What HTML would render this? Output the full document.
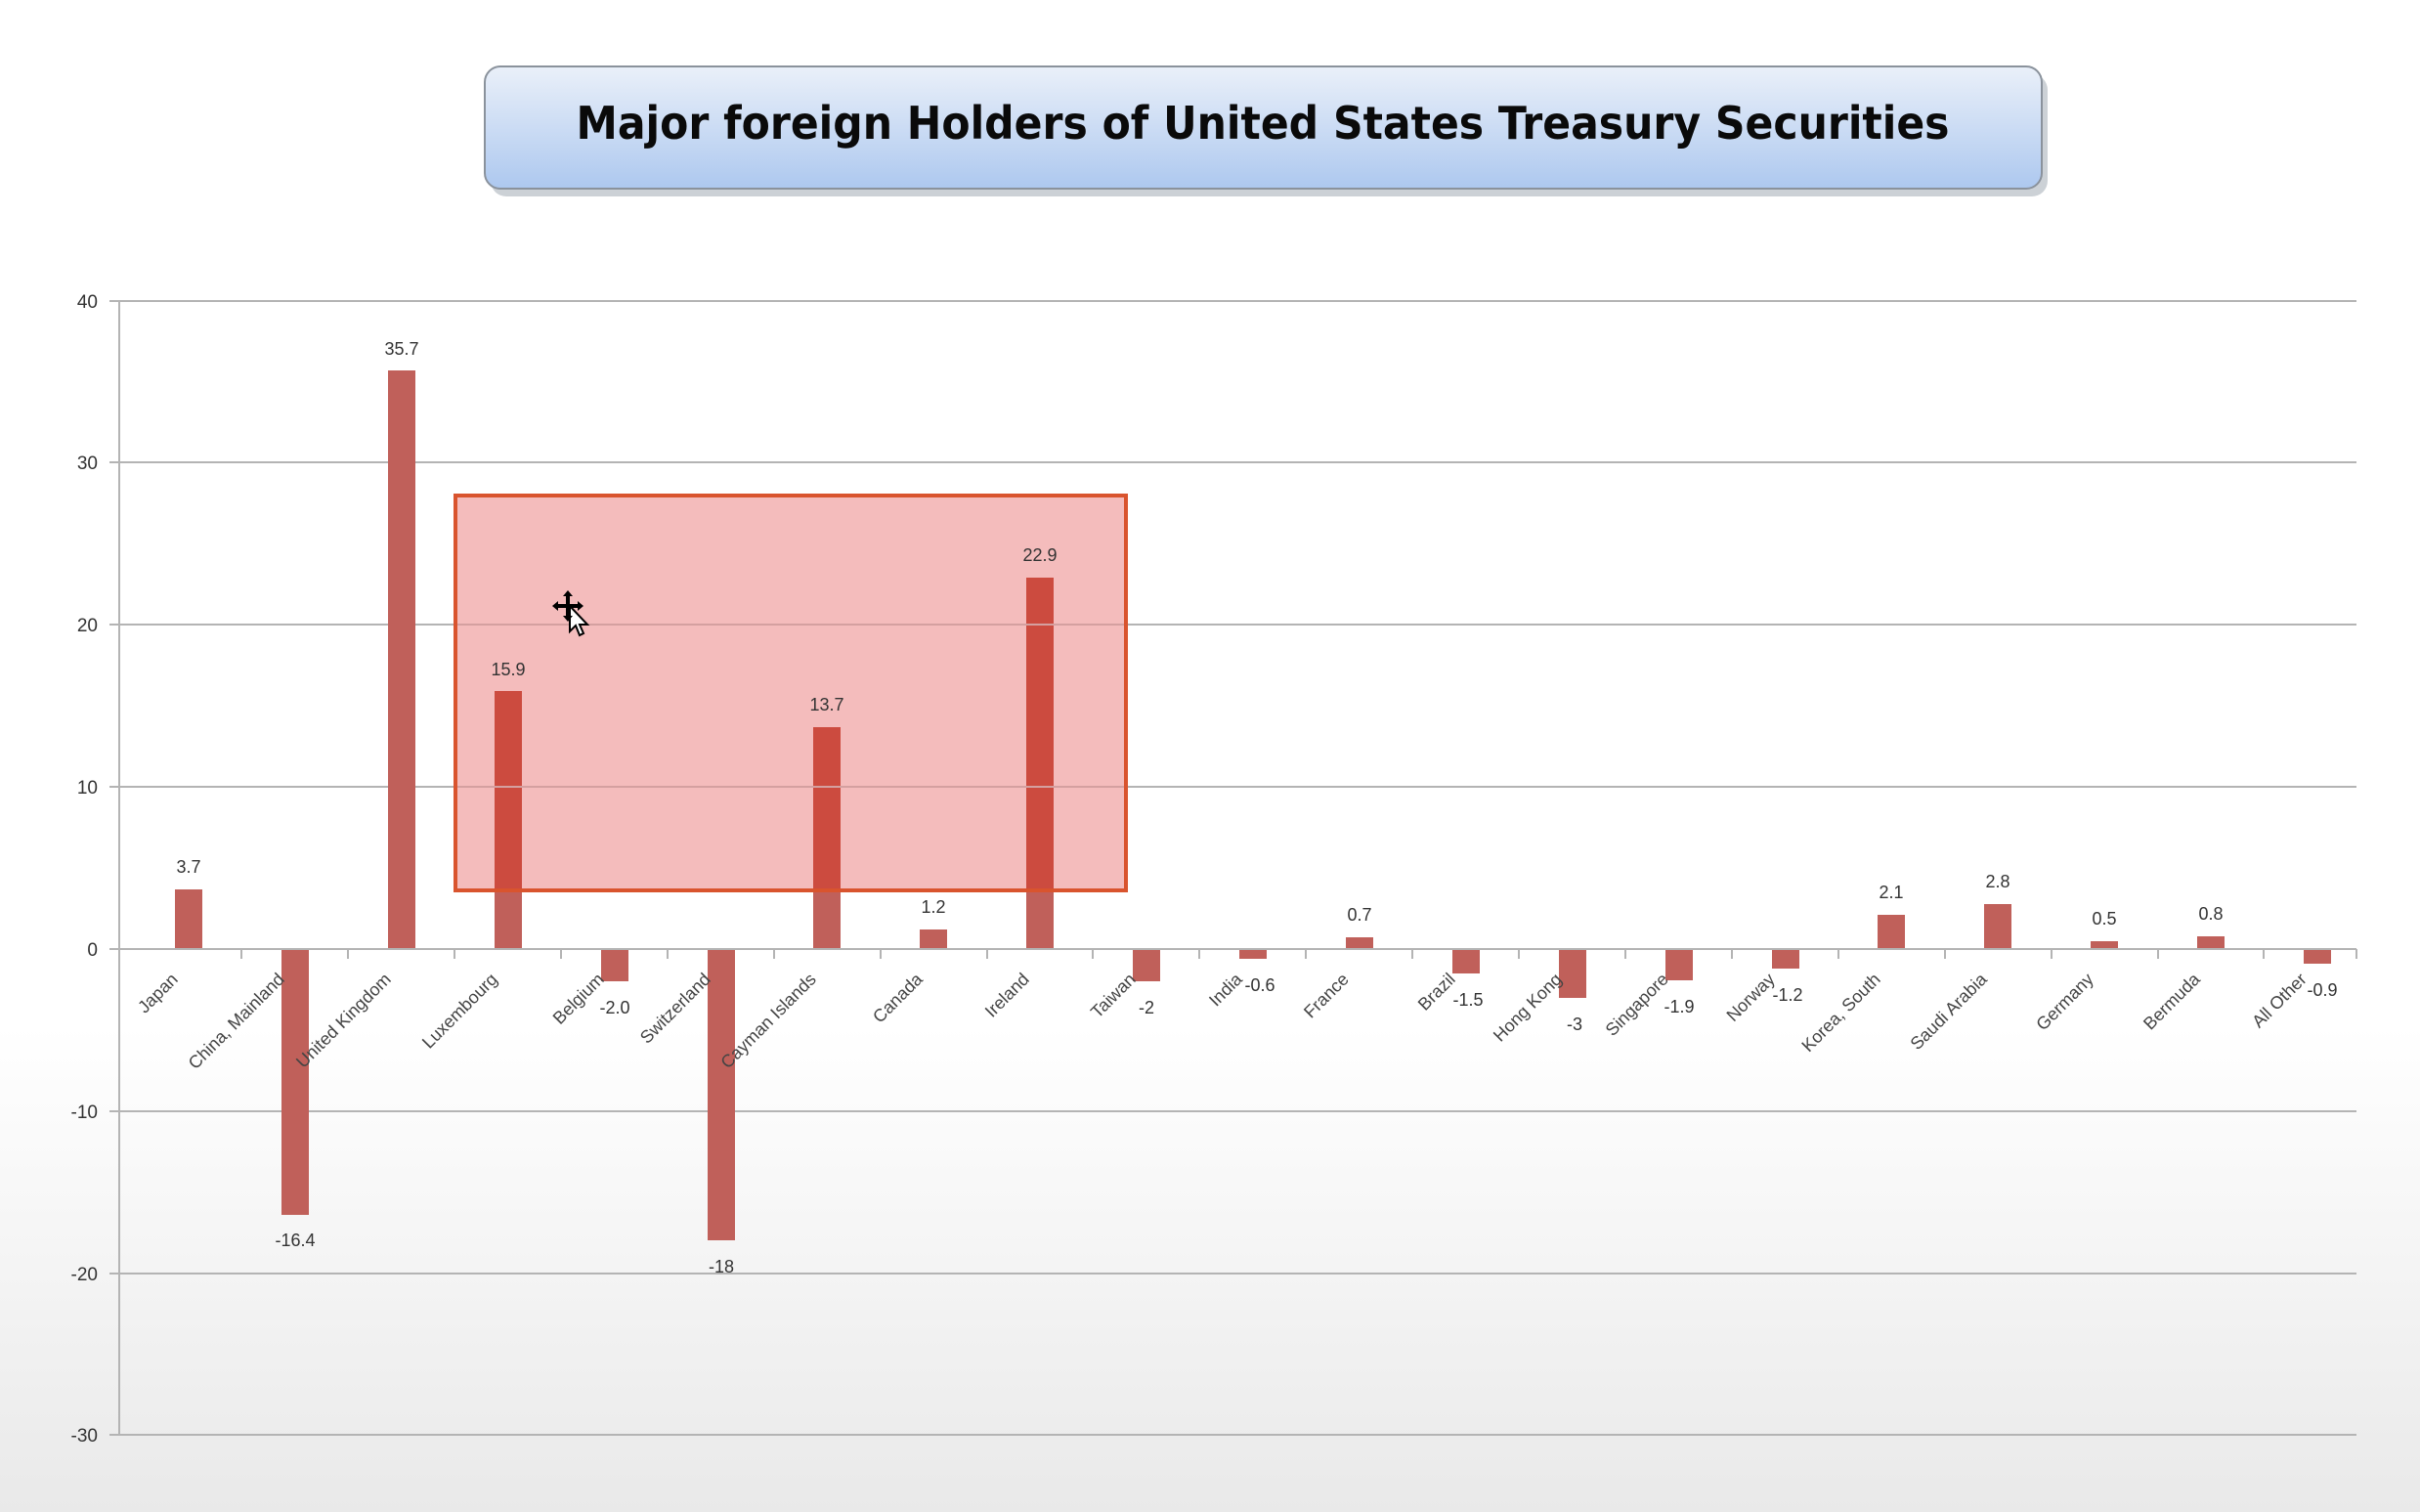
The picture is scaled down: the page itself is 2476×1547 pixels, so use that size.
<!DOCTYPE html>
<html><head><meta charset="utf-8"><style>
html,body{margin:0;padding:0;}
body{width:2476px;height:1547px;overflow:hidden;background:linear-gradient(to bottom,#ffffff 0px,#ffffff 1050px,#e9e9e9 1547px);}
svg{display:block;}
</style></head><body>
<svg width="2476" height="1547" viewBox="0 0 2476 1547" xmlns="http://www.w3.org/2000/svg" font-family="Liberation Sans, sans-serif">
<defs>
<linearGradient id="tg" x1="0" y1="0" x2="0" y2="1">
<stop offset="0" stop-color="#eaf0f9"/><stop offset="1" stop-color="#adc8ef"/>
</linearGradient>
<clipPath id="bx"><rect x="466" y="507" width="686" height="404"/></clipPath>
</defs>
<!-- title -->
<rect x="502" y="76" width="1593" height="125" rx="16" fill="#9aa3ad" opacity="0.5"/>
<rect x="496" y="68" width="1593" height="125" rx="16" fill="url(#tg)" stroke="#8a929c" stroke-width="2"/>
<text x="1292" y="142" text-anchor="middle" font-size="46" font-weight="bold" fill="#0a0a0a" textLength="1405" lengthAdjust="spacingAndGlyphs" font-family="DejaVu Sans, Liberation Sans, sans-serif">Major foreign Holders of United States Treasury Securities</text>
<!-- grid -->
<g stroke="#b4b4b4" stroke-width="2">
<line x1="112" y1="308" x2="2411" y2="308"/>
<line x1="112" y1="473" x2="2411" y2="473"/>
<line x1="112" y1="639" x2="2411" y2="639"/>
<line x1="112" y1="805" x2="2411" y2="805"/>
<line x1="112" y1="1137" x2="2411" y2="1137"/>
<line x1="112" y1="1303" x2="2411" y2="1303"/>
<line x1="112" y1="1468" x2="2411" y2="1468"/>
<line x1="122" y1="308" x2="122" y2="1468"/>
</g>
<g font-size="19" fill="#333" text-anchor="end">
<text x="100" y="315">40</text><text x="100" y="480">30</text><text x="100" y="646">20</text>
<text x="100" y="812">10</text><text x="100" y="978">0</text><text x="100" y="1144">-10</text>
<text x="100" y="1310">-20</text><text x="100" y="1475">-30</text>
</g>
<!-- bars -->
<g fill="#c0605a">
<rect x="179" y="910" width="28" height="61"/>
<rect x="288" y="971" width="28" height="272"/>
<rect x="397" y="379" width="28" height="592"/>
<rect x="506" y="707" width="28" height="264"/>
<rect x="615" y="971" width="28" height="33"/>
<rect x="724" y="971" width="28" height="298"/>
<rect x="832" y="744" width="28" height="227"/>
<rect x="941" y="951" width="28" height="20"/>
<rect x="1050" y="591" width="28" height="380"/>
<rect x="1159" y="971" width="28" height="33"/>
<rect x="1268" y="971" width="28" height="10"/>
<rect x="1377" y="959" width="28" height="12"/>
<rect x="1486" y="971" width="28" height="25"/>
<rect x="1595" y="971" width="28" height="50"/>
<rect x="1704" y="971" width="28" height="32"/>
<rect x="1813" y="971" width="28" height="20"/>
<rect x="1921" y="936" width="28" height="35"/>
<rect x="2030" y="925" width="28" height="46"/>
<rect x="2139" y="963" width="28" height="8"/>
<rect x="2248" y="958" width="28" height="13"/>
<rect x="2357" y="971" width="28" height="15"/>
</g>
<!-- axis & ticks -->
<g stroke="#b4b4b4" stroke-width="2">
<line x1="112" y1="971" x2="2411" y2="971"/>
<line x1="247" y1="971" x2="247" y2="981"/><line x1="356" y1="971" x2="356" y2="981"/><line x1="465" y1="971" x2="465" y2="981"/><line x1="574" y1="971" x2="574" y2="981"/><line x1="683" y1="971" x2="683" y2="981"/><line x1="792" y1="971" x2="792" y2="981"/><line x1="901" y1="971" x2="901" y2="981"/><line x1="1010" y1="971" x2="1010" y2="981"/><line x1="1118" y1="971" x2="1118" y2="981"/><line x1="1227" y1="971" x2="1227" y2="981"/><line x1="1336" y1="971" x2="1336" y2="981"/><line x1="1445" y1="971" x2="1445" y2="981"/><line x1="1554" y1="971" x2="1554" y2="981"/><line x1="1663" y1="971" x2="1663" y2="981"/><line x1="1772" y1="971" x2="1772" y2="981"/><line x1="1881" y1="971" x2="1881" y2="981"/><line x1="1990" y1="971" x2="1990" y2="981"/><line x1="2099" y1="971" x2="2099" y2="981"/><line x1="2208" y1="971" x2="2208" y2="981"/><line x1="2316" y1="971" x2="2316" y2="981"/><line x1="2411" y1="971" x2="2411" y2="981"/>
</g>
<!-- highlight box -->
<rect x="466" y="507" width="686" height="404" fill="#f4bcbc"/>
<g clip-path="url(#bx)" fill="#cc4b3f">
<rect x="506" y="707" width="28" height="264"/>
<rect x="832" y="744" width="28" height="227"/>
<rect x="1050" y="591" width="28" height="380"/>
</g>
<line x1="466" y1="639" x2="1152" y2="639" stroke="#d4a0a0" stroke-width="2"/>
<line x1="466" y1="805" x2="1152" y2="805" stroke="#d4a0a0" stroke-width="2"/>
<rect x="466" y="507" width="686" height="404" fill="none" stroke="#d9542e" stroke-width="4"/>
<!-- value labels -->
<g font-size="18" fill="#333" text-anchor="middle">
<text x="193" y="893">3.7</text>
<text x="302" y="1275">-16.4</text>
<text x="411" y="363">35.7</text>
<text x="520" y="691">15.9</text>
<text x="629" y="1037">-2.0</text>
<text x="738" y="1302">-18</text>
<text x="846" y="727">13.7</text>
<text x="955" y="934">1.2</text>
<text x="1064" y="574">22.9</text>
<text x="1173" y="1037">-2</text>
<text x="1289" y="1014">-0.6</text>
<text x="1391" y="942">0.7</text>
<text x="1502" y="1029">-1.5</text>
<text x="1611" y="1054">-3</text>
<text x="1718" y="1036">-1.9</text>
<text x="1829" y="1024">-1.2</text>
<text x="1935" y="919">2.1</text>
<text x="2044" y="908">2.8</text>
<text x="2153" y="946">0.5</text>
<text x="2262" y="941">0.8</text>
<text x="2376" y="1019">-0.9</text>
</g>
<!-- category labels -->
<g font-size="18" fill="#444" text-anchor="end">
<text transform="translate(183,1003) rotate(-45)">Japan</text>
<text transform="translate(292,1003) rotate(-45)">China, Mainland</text>
<text transform="translate(401,1003) rotate(-45)">United Kingdom</text>
<text transform="translate(510,1003) rotate(-45)">Luxembourg</text>
<text transform="translate(619,1003) rotate(-45)">Belgium</text>
<text transform="translate(728,1003) rotate(-45)">Switzerland</text>
<text transform="translate(836,1003) rotate(-45)">Cayman Islands</text>
<text transform="translate(945,1003) rotate(-45)">Canada</text>
<text transform="translate(1054,1003) rotate(-45)">Ireland</text>
<text transform="translate(1163,1003) rotate(-45)">Taiwan</text>
<text transform="translate(1272,1003) rotate(-45)">India</text>
<text transform="translate(1381,1003) rotate(-45)">France</text>
<text transform="translate(1490,1003) rotate(-45)">Brazil</text>
<text transform="translate(1599,1003) rotate(-45)">Hong Kong</text>
<text transform="translate(1708,1003) rotate(-45)">Singapore</text>
<text transform="translate(1817,1003) rotate(-45)">Norway</text>
<text transform="translate(1925,1003) rotate(-45)">Korea, South</text>
<text transform="translate(2034,1003) rotate(-45)">Saudi Arabia</text>
<text transform="translate(2143,1003) rotate(-45)">Germany</text>
<text transform="translate(2252,1003) rotate(-45)">Bermuda</text>
<text transform="translate(2361,1003) rotate(-45)">All Other</text>
</g>
<!-- cursor -->
<g transform="translate(583,620)">
<path d="M0 0 L0 26 L6 20 L10 30 L14 28 L10 19 L18 19 Z" fill="#fff" stroke="#000" stroke-width="2"/>
<path d="M-2 -16 l-5 6 h3 v8 h-8 v-3 l-6 5 6 5 v-3 h8 v8 h-3 l5 6 5 -6 h-3 v-8 h8 v3 l6 -5 -6 -5 v3 h-8 v-8 h3 z" fill="#000"/>
</g>
</svg>
</body></html>
